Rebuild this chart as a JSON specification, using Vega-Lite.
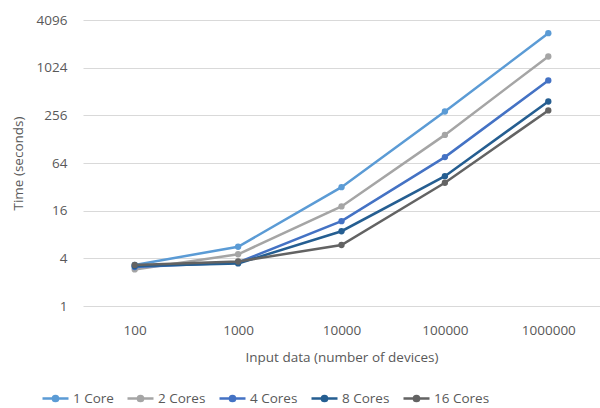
{
  "$schema": "https://vega.github.io/schema/vega-lite/v6.json",
  "width": 517,
  "height": 286,
  "autosize": {"type": "none"},
  "padding": {"left": 83, "top": 20, "right": 0, "bottom": 102},
  "background": "white",
  "config": {
    "font": "Open Sans",
    "view": {"stroke": null},
    "axis": {"labelColor": "#595959", "titleColor": "#595959", "labelFontSize": 13.5, "titleFontSize": 13.5, "titleFontWeight": "normal", "labelFont": "Open Sans", "titleFont": "Open Sans"}
  },
  "data": {
    "values": [
      {"n": "100", "s": "1 Core", "t": 3.3},
      {"n": "1000", "s": "1 Core", "t": 5.6},
      {"n": "10000", "s": "1 Core", "t": 31.7},
      {"n": "100000", "s": "1 Core", "t": 286},
      {"n": "1000000", "s": "1 Core", "t": 2790},
      {"n": "100", "s": "2 Cores", "t": 2.9},
      {"n": "1000", "s": "2 Cores", "t": 4.5},
      {"n": "10000", "s": "2 Cores", "t": 18.1},
      {"n": "100000", "s": "2 Cores", "t": 145},
      {"n": "1000000", "s": "2 Cores", "t": 1418},
      {"n": "100", "s": "4 Cores", "t": 3.1},
      {"n": "1000", "s": "4 Cores", "t": 3.55},
      {"n": "10000", "s": "4 Cores", "t": 11.8},
      {"n": "100000", "s": "4 Cores", "t": 76},
      {"n": "1000000", "s": "4 Cores", "t": 706},
      {"n": "100", "s": "8 Cores", "t": 3.2},
      {"n": "1000", "s": "8 Cores", "t": 3.45},
      {"n": "10000", "s": "8 Cores", "t": 8.8},
      {"n": "100000", "s": "8 Cores", "t": 43.6},
      {"n": "1000000", "s": "8 Cores", "t": 383},
      {"n": "100", "s": "16 Cores", "t": 3.3},
      {"n": "1000", "s": "16 Cores", "t": 3.65},
      {"n": "10000", "s": "16 Cores", "t": 5.9},
      {"n": "100000", "s": "16 Cores", "t": 36},
      {"n": "1000000", "s": "16 Cores", "t": 295}
    ]
  },
  "encoding": {
    "x": {
      "field": "n", "type": "ordinal", "sort": null,
      "scale": {"type": "point", "padding": 0.5},
      "axis": {"title": "Input data (number of devices)", "labelAngle": 0, "domain": false, "ticks": false, "grid": false, "labelPadding": 17, "titlePadding": 14}
    },
    "y": {
      "field": "t", "type": "quantitative",
      "scale": {"type": "log", "base": 2, "domain": [1, 4096], "nice": false},
      "axis": {"title": "Time (seconds)", "values": [1, 4, 16, 64, 256, 1024, 4096], "format": "d", "domain": false, "ticks": false, "gridColor": "#d9d9d9", "gridWidth": 1, "labelPadding": 16, "titlePadding": 11}
    },
    "color": {
      "field": "s", "type": "nominal", "sort": ["1 Core", "2 Cores", "4 Cores", "8 Cores", "16 Cores"],
      "scale": {"domain": ["1 Core", "2 Cores", "4 Cores", "8 Cores", "16 Cores"], "range": ["#5B9BD5", "#A5A5A5", "#4472C4", "#255E91", "#636363"]},
      "legend": {
        "title": null, "orient": "none", "legendX": -42, "legendY": 364, "direction": "horizontal", "gridAlign": "none",
        "symbolType": "M-1,0H1M0.2,0A0.2,0.2,0,1,1,-0.2,0A0.2,0.2,0,1,1,0.2,0Z",
        "symbolSize": 676, "symbolStrokeWidth": 2.5, "labelFontSize": 13.5, "labelColor": "#595959", "labelFont": "Open Sans", "columnPadding": 8, "labelOffset": 3
      }
    }
  },
  "layer": [
    {"mark": {"type": "line", "strokeWidth": 2.5}},
    {"mark": {"type": "point", "filled": true, "size": 40, "opacity": 1}}
  ]
}
